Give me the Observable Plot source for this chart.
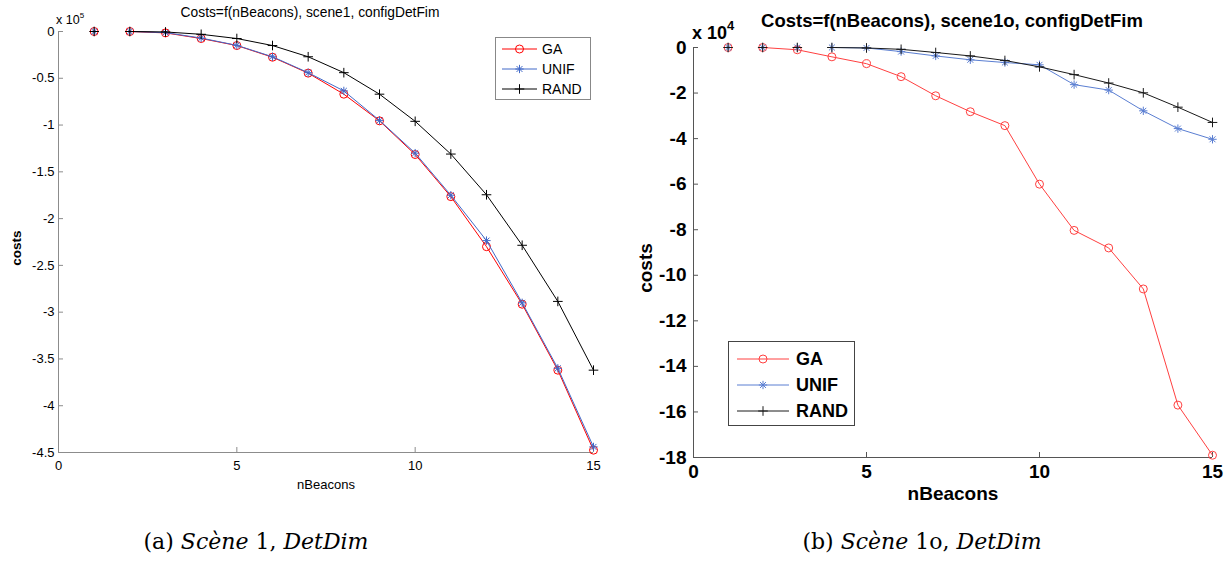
<!DOCTYPE html>
<html><head><meta charset="utf-8">
<script src="https://cdn.jsdelivr.net/npm/d3@7"></script>
<script src="https://cdn.jsdelivr.net/npm/@observablehq/plot@0.6"></script>
<style>
body{margin:0;background:#fff;}
#root{position:relative;width:1229px;height:562px;overflow:hidden;font-family:"Liberation Sans",Arial,sans-serif;color:#000;}
.abs{position:absolute;white-space:nowrap;}
.cap{font-family:"DejaVu Serif","Liberation Serif",serif;font-size:22px;}
.cap i{font-style:italic;}
</style></head><body><div id="root"></div>
<script>
// ---- data ----
const nBeacons = [1,2,3,4,5,6,7,8,9,10,11,12,13,14,15];
const seriesNames = ["GA","UNIF","RAND"];
// scene1 (x 10^5)
const ga1   = [0,0,-0.015,-0.075,-0.15,-0.275,-0.445,-0.67,-0.955,-1.315,-1.765,-2.30,-2.915,-3.62,-4.475];
const unif1 = [0,0,-0.012,-0.07,-0.148,-0.27,-0.44,-0.635,-0.95,-1.30,-1.75,-2.235,-2.90,-3.60,-4.44];
const rand1 = [0,0,-0.005,-0.03,-0.075,-0.15,-0.27,-0.44,-0.67,-0.96,-1.31,-1.745,-2.285,-2.885,-3.62];
const lineStart1 = [2,2,2];
// scene1o (x 10^4)
const ga2   = [0,0,-0.1,-0.41,-0.71,-1.28,-2.12,-2.82,-3.43,-6.0,-8.03,-8.8,-10.6,-15.7,-17.9];
const unif2 = [0,0,0,0,-0.02,-0.18,-0.37,-0.54,-0.66,-0.76,-1.63,-1.87,-2.78,-3.56,-4.03];
const rand2 = [0,0,0,0,-0.02,-0.08,-0.22,-0.37,-0.57,-0.85,-1.19,-1.56,-1.99,-2.62,-3.29];
const lineStart2 = [2,4,4];
const xTicks = [0,5,10,15];
const yTicks1 = [0,-0.5,-1,-1.5,-2,-2.5,-3,-3.5,-4,-4.5];
const yTicks2 = [0,-2,-4,-6,-8,-10,-12,-14,-16,-18];
const titles = ["Costs=f(nBeacons), scene1, configDetFim","Costs=f(nBeacons), scene1o, configDetFim"];
const exponents = ["5","4"];
const xLabel = "nBeacons", yLabel = "costs";

function toRows(vals){
  return seriesNames.flatMap((s,k)=>nBeacons.map((x,i)=>({series:s,x,y:vals[k][i]})));
}

function marksFor(rows, starts, colors, r){
  const out = [];
  seriesNames.forEach((s,k)=>{
    const d = rows.filter(o=>o.series===s);
    out.push(Plot.line(d.filter(o=>o.x>=starts[k]),{x:"x",y:"y",stroke:colors[k],strokeWidth:1}));
    if(s==="GA") out.push(Plot.dot(d,{x:"x",y:"y",symbol:"circle",r:r.circle,stroke:colors[k],fill:"none",strokeWidth:1}));
    if(s==="UNIF"){
      out.push(Plot.dot(d,{x:"x",y:"y",symbol:"plus",r:r.star,stroke:colors[k],strokeWidth:1}));
      out.push(Plot.dot(d,{x:"x",y:"y",symbol:"times",r:r.star,stroke:colors[k],strokeWidth:1}));
    }
    if(s==="RAND") out.push(Plot.dot(d,{x:"x",y:"y",symbol:"plus",r:r.plus,stroke:colors[k],strokeWidth:1}));
  });
  return out;
}

function chart(cfg){
  const rows = toRows(cfg.vals);
  const ymin = d3.min(cfg.yTicks);
  const p = Plot.plot({
    width: cfg.width, height: cfg.height,
    marginLeft: cfg.m[0], marginTop: cfg.m[1], marginRight: cfg.m[2], marginBottom: cfg.m[3],
    x:{domain:[0,15]}, y:{domain:[ymin,0]},
    style:{fontFamily:'"Liberation Sans",Arial,sans-serif',fontSize:cfg.fs+"px",fontWeight:cfg.fw,color:"#000",background:"transparent",overflow:"visible"},
    marks:[
      Plot.ruleX([0],{stroke:cfg.axis}),
      Plot.ruleY([ymin],{stroke:cfg.axis}),
      Plot.axisX(xTicks,{tickSize:-5,tickPadding:cfg.xPad,stroke:cfg.axis,fill:"#000",tickFormat:d=>String(d),
        label:xLabel,labelAnchor:"center",labelArrow:"none",labelOffset:cfg.xLabOff}),
      Plot.axisY(cfg.yTicks,{tickSize:-5,tickPadding:cfg.yPad,stroke:cfg.axis,fill:"#000",tickFormat:d=>String(d),
        label:null}),
      ...marksFor(rows,cfg.starts,cfg.colors,cfg.r)
    ]
  });
  p.style.position="absolute"; p.style.left=cfg.left+"px"; p.style.top="0px";
  return p;
}

const root = document.getElementById("root");
const colors1 = ["#ff0000","#4169c8","#000000"];
const colors2 = ["#ff4040","#5a7ed2","#1a1a1a"];
root.appendChild(chart({vals:[ga1,unif1,rand1],starts:lineStart1,colors:colors1,yTicks:yTicks1,
  width:614,height:520,m:[58,31,21,68],left:0,fs:13,fw:"normal",axis:"#8c8c8c",xPad:13,yPad:9,xLabOff:36,
  r:{circle:4,star:2.8,plus:3.2}}));
root.appendChild(chart({vals:[ga2,unif2,rand2],starts:lineStart2,colors:colors2,yTicks:yTicks2,
  width:609,height:520,m:[73,47,17,63],left:620,fs:19,fw:"bold",axis:"#555",xPad:12,yPad:12,xLabOff:42,
  r:{circle:4,star:2.8,plus:3.2}}));

function addText(html, css, cls){
  const d=document.createElement("div"); d.className="abs "+(cls||""); d.innerHTML=html;
  Object.assign(d.style, css); root.appendChild(d); return d;
}
// titles
addText(titles[0],{left:"310px",top:"5px",transform:"translateX(-50%)",fontSize:"13.8px"});
addText(titles[1],{left:"952px",top:"10px",transform:"translateX(-50%)",fontSize:"18.5px",fontWeight:"bold"});
// exponents
addText('x 10<sup style="font-size:8px;vertical-align:6px">'+exponents[0]+'</sup>',{left:"56px",top:"11px",fontSize:"12.5px"});
addText('x 10<sup style="font-size:13px;vertical-align:9px">'+exponents[1]+'</sup>',{left:"692px",top:"18px",fontSize:"18px",fontWeight:"bold"});
// y labels
addText(yLabel,{left:"16px",top:"248px",transform:"translate(-50%,-50%) rotate(-90deg)",fontSize:"13.5px",fontWeight:"bold"});
addText(yLabel,{left:"646px",top:"268px",transform:"translate(-50%,-50%) rotate(-90deg)",fontSize:"19px",fontWeight:"bold"});
// captions
addText('(a) <i>Scène</i> 1, <i>DetDim</i>',{left:"256px",top:"529px",transform:"translateX(-50%)"},"cap");
addText('(b) <i>Scène</i> 1o, <i>DetDim</i>',{left:"922px",top:"529px",transform:"translateX(-50%)"},"cap");

// legends
function legend(cfg){
  const svg = d3.select(root).append("svg").attr("width",cfg.w).attr("height",cfg.h)
    .style("position","absolute").style("left",cfg.x+"px").style("top",cfg.y+"px");
  svg.append("rect").attr("x",0.5).attr("y",0.5).attr("width",cfg.w-1).attr("height",cfg.h-1).attr("fill","#fff").attr("stroke",cfg.border);
  seriesNames.forEach((s,k)=>{
    const yy = cfg.y0 + k*cfg.dy;
    const g = svg.append("g").attr("stroke",cfg.colors[k]).attr("fill","none");
    g.append("line").attr("x1",cfg.l0).attr("x2",cfg.l1).attr("y1",yy).attr("y2",yy);
    const cx=(cfg.l0+cfg.l1)/2;
    const sym = (type,r)=>g.append("path").attr("transform",`translate(${cx},${yy})`).attr("d",d3.symbol(type,Math.PI*r*r)());
    if(s==="GA") sym(d3.symbolCircle,4);
    if(s==="UNIF"){ sym(d3.symbolPlus,2.8); sym(d3.symbolTimes,2.8); }
    if(s==="RAND") sym(d3.symbolPlus,3.2);
    svg.append("text").attr("x",cfg.tx).attr("y",yy).attr("dy","0.36em").attr("font-size",cfg.fs).attr("font-weight",cfg.fw)
      .attr("font-family",'"Liberation Sans",Arial,sans-serif').text(s);
  });
}
legend({x:495,y:37,w:96,h:63,border:"#888",colors:colors1,y0:12,dy:20,l0:7,l1:42,tx:47,fs:14,fw:"normal"});
legend({x:728,y:341,w:127,h:85,border:"#444",colors:colors2,y0:18,dy:26,l0:9,l1:61,tx:68,fs:18,fw:"bold"});
</script></body></html>
